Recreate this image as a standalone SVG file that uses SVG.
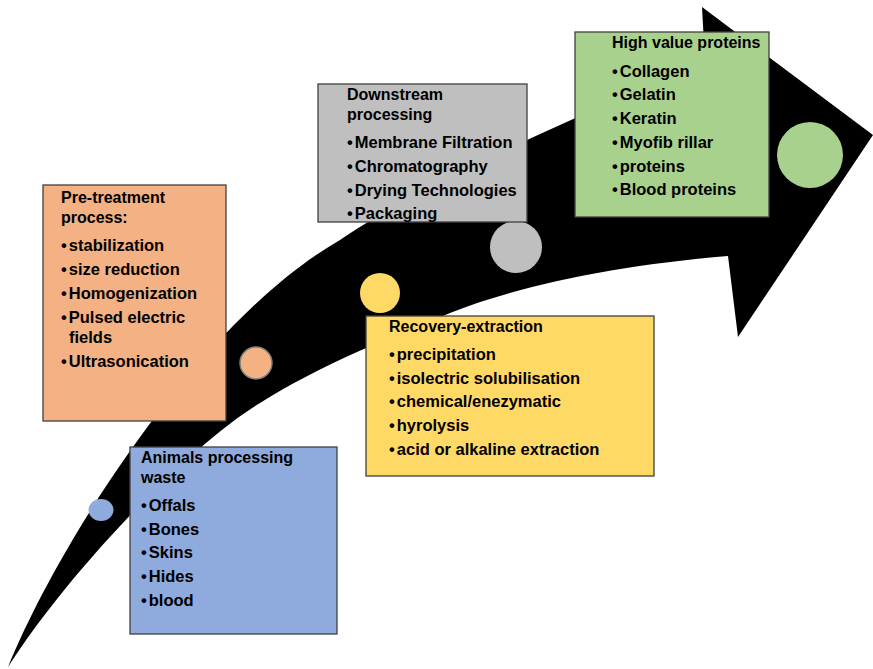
<svg xmlns="http://www.w3.org/2000/svg" width="873" height="669" viewBox="0 0 873 669">
<style>
text{font-family:"Liberation Sans",Arial,sans-serif;font-weight:bold;font-size:16.5px;fill:#000}
text.t{font-size:16px}
.box{stroke:#404040;stroke-width:1.3}
</style>
<rect width="873" height="669" fill="#fff"/>
<g id="connectors">
<path id="arrow" fill="#000" d="M8,667 C60,540 200,320 340,240 C430,180 580,115 705,62 L702,7 L873,135 L738,337 L728,256 C620,265 520,285 450,313 C400,333 320,365 260,403 C190,445 70,570 8,667 Z"/>
</g>
<g id="dots">
<ellipse cx="101" cy="510" rx="12.5" ry="11" fill="#8faadc"/>
<circle cx="256" cy="363" r="16" fill="#f4b183" stroke="#7f7f7f" stroke-width="1.5"/>
<circle cx="380" cy="293" r="20" fill="#ffd966"/>
<circle cx="516" cy="247" r="26" fill="#bfbfbf"/>
<circle cx="810" cy="155" r="33" fill="#a9d18e"/>
</g>
<g id="pretreatment">
<rect class="box" x="43" y="185" width="183" height="236" fill="#f4b183" stroke="#7f7f7f"/>
<text class="t" x="61" y="203">Pre-treatment</text>
<text class="t" x="61" y="223">process:</text>
<text x="61" y="251">•<tspan dx="2">stabilization</tspan></text>
<text x="61" y="275">•<tspan dx="2">size reduction</tspan></text>
<text x="61" y="299">•<tspan dx="2">Homogenization</tspan></text>
<text x="61" y="323">•<tspan dx="2">Pulsed electric</tspan></text>
<text x="69" y="343">fields</text>
<text x="61" y="367">•<tspan dx="2">Ultrasonication</tspan></text>
</g>
<g id="animals">
<rect class="box" x="130" y="447" width="207" height="187" fill="#8faadc" stroke="#222"/>
<text class="t" x="141" y="463">Animals processing</text>
<text class="t" x="141" y="483">waste</text>
<text x="141" y="511">•<tspan dx="2">Offals</tspan></text>
<text x="141" y="535">•<tspan dx="2">Bones</tspan></text>
<text x="141" y="558">•<tspan dx="2">Skins</tspan></text>
<text x="141" y="582">•<tspan dx="2">Hides</tspan></text>
<text x="141" y="606">•<tspan dx="2">blood</tspan></text>
</g>
<g id="downstream">
<rect class="box" x="318" y="84" width="209" height="138" fill="#bfbfbf"/>
<text class="t" x="347" y="100">Downstream</text>
<text class="t" x="347" y="120">processing</text>
<text x="347" y="148">•<tspan dx="2">Membrane Filtration</tspan></text>
<text x="347" y="172">•<tspan dx="2">Chromatography</tspan></text>
<text x="347" y="196">•<tspan dx="2">Drying Technologies</tspan></text>
<text x="347" y="219">•<tspan dx="2">Packaging</tspan></text>
</g>
<g id="recovery">
<rect class="box" x="366" y="316" width="288" height="160" fill="#ffd966"/>
<text class="t" x="389" y="332">Recovery-extraction</text>
<text x="389" y="360">•<tspan dx="2">precipitation</tspan></text>
<text x="389" y="384">•<tspan dx="2">isolectric solubilisation</tspan></text>
<text x="389" y="407">•<tspan dx="2">chemical/enezymatic</tspan></text>
<text x="389" y="431">•<tspan dx="2">hyrolysis</tspan></text>
<text x="389" y="455">•<tspan dx="2">acid or alkaline extraction</tspan></text>
</g>
<g id="highvalue">
<rect class="box" x="575" y="32" width="194" height="185" fill="#a9d18e"/>
<text class="t" x="612" y="48">High value proteins</text>
<text x="612" y="77">•<tspan dx="2">Collagen</tspan></text>
<text x="612" y="100">•<tspan dx="2">Gelatin</tspan></text>
<text x="612" y="124">•<tspan dx="2">Keratin</tspan></text>
<text x="612" y="148">•<tspan dx="2">Myofib rillar</tspan></text>
<text x="612" y="172">•<tspan dx="2">proteins</tspan></text>
<text x="612" y="195">•<tspan dx="2">Blood proteins</tspan></text>
</g>
</svg>
